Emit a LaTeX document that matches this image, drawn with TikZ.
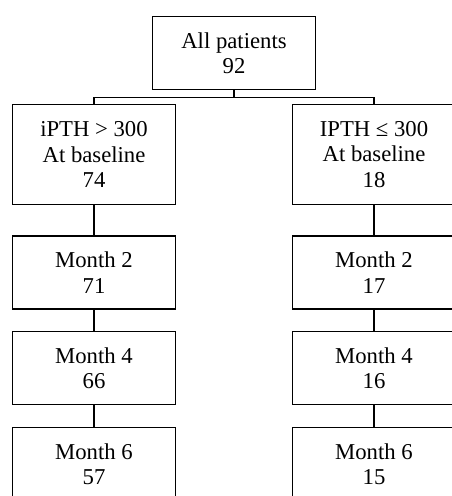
\documentclass[tikz,border=0pt]{standalone}
\usepackage{fontspec}
\setmainfont{Liberation Serif}
\begin{document}
\begin{tikzpicture}[x=1pt,y=-1pt,
  box/.style={draw, line width=1.7pt, minimum width=163pt, align=center, inner sep=0pt,
    font=\fontsize{22.7}{25.5}\selectfont},
  link/.style={line width=1.7pt}]
\useasboundingbox (0,0) rectangle (451,496);
\node[box, minimum height=73pt] (top) at (234,53) {All patients\\92};
\node[box, minimum height=100pt] (L0) at (94,154.5) {iPTH {>} 300\\At baseline\\74};
\node[box, minimum height=100pt] (R0) at (374,154.5) {IPTH ≤ 300\\At baseline\\18};
\node[box, minimum height=73pt] (L1) at (94,272.5) {Month 2\\71};
\node[box, minimum height=73pt] (R1) at (374,272.5) {Month 2\\17};
\node[box, minimum height=73pt] (L2) at (94,368) {Month 4\\66};
\node[box, minimum height=73pt] (R2) at (374,368) {Month 4\\16};
\node[box, minimum height=73pt] (L3) at (94,464) {Month 6\\57};
\node[box, minimum height=73pt] (R3) at (374,464) {Month 6\\15};
\draw[link] (top.south) -- ++(0,7) coordinate (j);
\draw[link] (L0.north) |- (j) -| (R0.north);
\draw[link] (L0) -- (L1);
\draw[link] (L1) -- (L2);
\draw[link] (L2) -- (L3);
\draw[link] (R0) -- (R1);
\draw[link] (R1) -- (R2);
\draw[link] (R2) -- (R3);
\end{tikzpicture}
\end{document}
